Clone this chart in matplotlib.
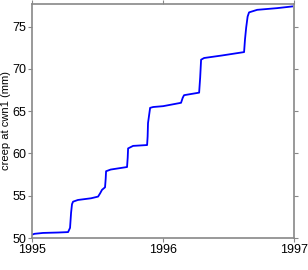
import matplotlib
matplotlib.use('Agg')
import matplotlib.pyplot as plt

plt.rcParams['font.family'] = ['Liberation Sans', 'DejaVu Sans']

# creep record
years = [1995.000, 1995.020, 1995.084, 1995.200, 1995.275, 1995.290, 1995.298, 1995.305,
         1995.313, 1995.350, 1995.450, 1995.504, 1995.520, 1995.534, 1995.557, 1995.562,
         1995.565, 1995.600, 1995.725, 1995.730, 1995.733, 1995.771, 1995.878, 1995.882,
         1995.885, 1995.901, 1995.924, 1996.000, 1996.137, 1996.150, 1996.160, 1996.275,
         1996.283, 1996.290, 1996.313, 1996.450, 1996.618, 1996.625, 1996.634, 1996.645,
         1996.656, 1996.718, 1996.870, 1996.985]
creep = [50.4, 50.5, 50.6, 50.65, 50.7, 51.2, 53.0, 54.0,
         54.3, 54.5, 54.7, 54.9, 55.3, 55.7, 56.0, 57.0,
         57.9, 58.1, 58.4, 59.5, 60.6, 60.9, 61.0, 62.0,
         63.6, 65.4, 65.5, 65.6, 66.0, 66.6, 66.9, 67.2,
         69.0, 71.1, 71.3, 71.6, 72.0, 73.5, 74.9, 76.2,
         76.7, 77.0, 77.2, 77.4]

xticks = [1995, 1996, 1997]
yticks = [50, 55, 60, 65, 70, 75]

fig = plt.figure(figsize=(3.08, 2.70), dpi=100)
ax = fig.add_axes([0.104, 0.1185, 0.851, 0.867])
ax.plot(years, creep, color='#0000ff', lw=1.3)
ax.set_xlim(1995, 1997)
ax.set_ylim(50, 77.7)
ax.set_xticks(xticks)
ax.set_yticks(yticks)
ax.set_xticklabels([str(t) for t in xticks])
ax.set_ylabel('creep at cwn1 (mm)', fontsize=8, labelpad=1)
ax.tick_params(labelsize=9, length=3, color='#888888', pad=1,
               top=True, right=True)
for s in ax.spines.values():
    s.set_color('#888888')
    s.set_linewidth(1.2)

fig.savefig('out.png', dpi=100)
